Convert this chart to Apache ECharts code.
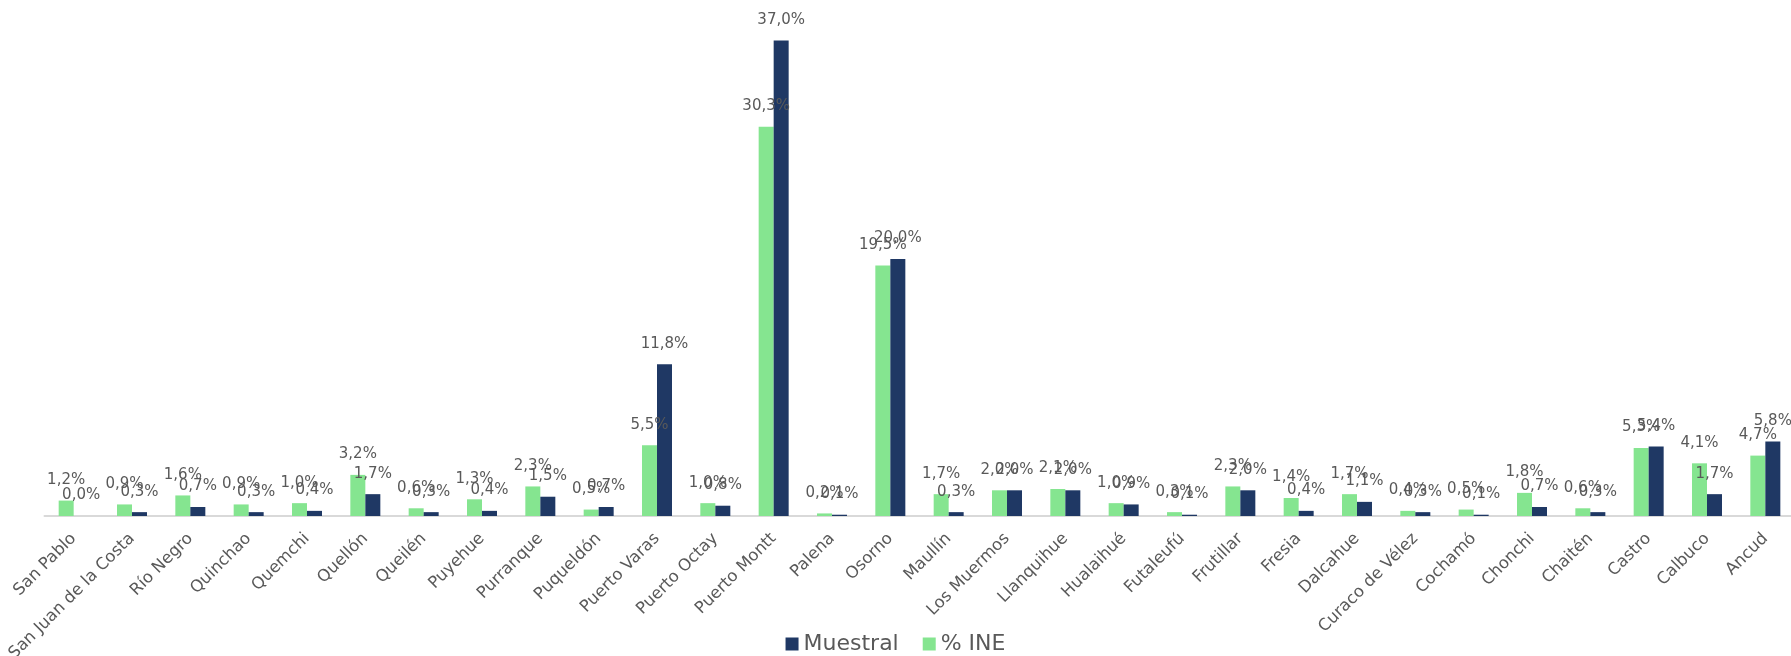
<!DOCTYPE html>
<html>
<head>
<meta charset="utf-8">
<script src="https://cdn.jsdelivr.net/npm/echarts@6/dist/echarts.min.js"></script>
<style>
html,body{margin:0;padding:0;background:#fff;}
#chart{width:1791px;height:656px;}
</style>
</head>
<body>
<div id="chart"></div>
<script>
const categories = ["San Pablo","San Juan de la Costa","Río Negro","Quinchao","Quemchi","Quellón","Queilén","Puyehue","Purranque","Puqueldón","Puerto Varas","Puerto Octay","Puerto Montt","Palena","Osorno","Maullín","Los Muermos","Llanquihue","Hualaihué","Futaleufú","Frutillar","Fresia","Dalcahue","Curaco de Vélez","Cochamó","Chonchi","Chaitén","Castro","Calbuco","Ancud"];
const ine = [1.2,0.9,1.6,0.9,1.0,3.2,0.6,1.3,2.3,0.5,5.5,1.0,30.3,0.2,19.5,1.7,2.0,2.1,1.0,0.3,2.3,1.4,1.7,0.4,0.5,1.8,0.6,5.3,4.1,4.7];
const muestral = [0.0,0.3,0.7,0.3,0.4,1.7,0.3,0.4,1.5,0.7,11.8,0.8,37.0,0.1,20.0,0.3,2.0,2.0,0.9,0.1,2.0,0.4,1.1,0.3,0.1,0.7,0.3,5.4,1.7,5.8];
const seriesNames = ["% INE","Muestral"];
const legendOrder = ["Muestral","% INE"];

const FONT = "DejaVu Sans";
const TXT = "#595959";
const fmt = p => p.value.toFixed(1).replace('.', ',') + '%';
const labelCfg = {show:true, position:'top', distance:13, color:TXT, fontFamily:FONT, fontSize:15, formatter:fmt};

const chart = echarts.init(document.getElementById('chart'), null, {renderer:'canvas'});
chart.setOption({
  animation:false,
  backgroundColor:'#ffffff',
  grid:{left:44.5, width:1750, top:2, bottom:140, containLabel:false, outerBoundsMode:'none'},
  legend:{
    data:legendOrder, bottom:1, left:'center', padding:0,
    icon:'rect', itemWidth:13, itemHeight:13, itemGap:24,
    textStyle:{color:TXT, fontFamily:FONT, fontSize:22}
  },
  xAxis:{
    type:'category', data:categories,
    axisLine:{lineStyle:{color:'#d9d9d9', width:2}},
    axisTick:{show:false},
    axisLabel:{interval:0, rotate:45, margin:20, color:TXT, fontFamily:FONT, fontSize:16.5}
  },
  yAxis:{type:'value', min:0, max:40, show:false, splitLine:{show:false}},
  series:[
    {name:seriesNames[0], type:'bar', data:ine, barWidth:15, barGap:'0%',
     itemStyle:{color:'#85E590'}, label:labelCfg},
    {name:seriesNames[1], type:'bar', data:muestral, barWidth:15, barGap:'0%',
     itemStyle:{color:'#1F3864'}, label:labelCfg}
  ]
});
</script>
</body>
</html>
